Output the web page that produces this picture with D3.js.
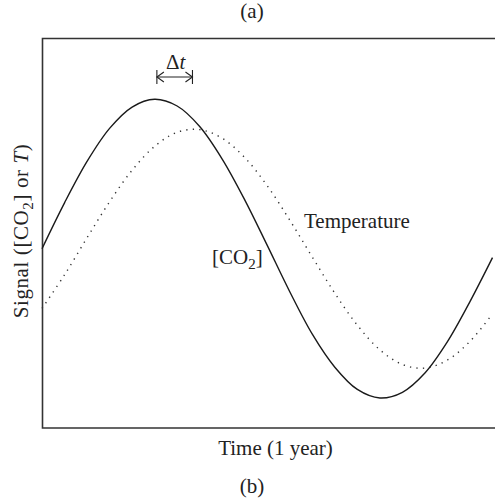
<!DOCTYPE html>
<html>
<head>
<meta charset="utf-8">
<script src="https://cdn.jsdelivr.net/npm/d3@7"></script>
<style>
  body { margin: 0; background: #fff; }
  text { font-family: "Liberation Serif", "Times New Roman", serif; fill: #222; }
</style>
</head>
<body>
<div id="chart"></div>
<script>
// time across the plot, as a fraction of one year
var times = [0, 0.05, 0.1, 0.15, 0.2, 0.25, 0.3, 0.35, 0.4, 0.45, 0.5,
             0.55, 0.6, 0.65, 0.7, 0.75, 0.8, 0.85, 0.9, 0.95, 1.0];
// [CO2] signal (solid)
var co2 = [0.0, 0.307, 0.584, 0.805, 0.948, 1.0, 0.955, 0.818, 0.6, 0.327, 0.022,
           -0.288, -0.572, -0.793, -0.942, -0.999, -0.961, -0.832, -0.622, -0.354, -0.06];
// temperature signal (dotted)
var temperature = [-0.40, -0.175, 0.073, 0.314, 0.525, 0.685, 0.779, 0.797, 0.739, 0.61, 0.421,
                   0.191, -0.056, -0.298, -0.512, -0.677, -0.775, -0.799, -0.745, -0.62, -0.436];
// lag marker, start and end times
var lag = [0.255, 0.334];

var svgWidth = 495;
var svgHeight = 502;
var margin = { top: 38, right: 2, bottom: 74, left: 42 };
var width = svgWidth - margin.left - margin.right;
var height = svgHeight - margin.top - margin.bottom;

var svg = d3.select("#chart")
  .append("svg")
  .attr("width", svgWidth)
  .attr("height", svgHeight);

var chartGroup = svg.append("g")
  .attr("transform", `translate(${margin.left}, ${margin.top})`);

var xScale = d3.scaleLinear().domain([0, 1]).range([0, width - 0.5]);
var yScale = d3.scaleLinear().domain([-1.2, 1.41]).range([height, 0]);

// frame: top, left, bottom
chartGroup.append("path")
  .attr("d", `M${width + 2},0.5H0.5V${height}H${width + 2}`)
  .attr("fill", "none")
  .attr("stroke", "#333")
  .attr("stroke-width", 1.6);

var line = d3.line()
  .x(d => xScale(d[0]))
  .y(d => yScale(d[1]))
  .curve(d3.curveCatmullRom);

chartGroup.append("path")
  .attr("d", line(d3.zip(times, temperature)))
  .attr("fill", "none")
  .attr("stroke", "#333")
  .attr("stroke-width", 1.4)
  .attr("stroke-dasharray", "1.3,5.2");

chartGroup.append("path")
  .attr("d", line(d3.zip(times, co2)))
  .attr("fill", "none")
  .attr("stroke", "#1a1a1a")
  .attr("stroke-width", 1.4);

// delta t marker
var x0 = xScale(lag[0]), x1 = xScale(lag[1]), ay = 39;
var marker = chartGroup.append("g")
  .attr("fill", "none")
  .attr("stroke", "#222")
  .attr("stroke-width", 1.1);
marker.append("path").attr("d", `M${x0},${ay - 7}V${ay + 7}M${x1},${ay - 7}V${ay + 7}M${x0},${ay}H${x1}`);
marker.append("path").attr("d", `M${x0 + 7},${ay - 5}L${x0},${ay}L${x0 + 7},${ay + 5}`);
marker.append("path").attr("d", `M${x1 - 7},${ay - 5}L${x1},${ay}L${x1 - 7},${ay + 5}`);

var dt = chartGroup.append("text")
  .attr("x", (x0 + x1) / 2 + 1)
  .attr("y", ay - 8)
  .attr("text-anchor", "middle")
  .style("font-size", "21px");
dt.append("tspan").text("\u0394");
dt.append("tspan").style("font-style", "italic").text("t");

// curve labels
chartGroup.append("text")
  .attr("x", 262)
  .attr("y", 190)
  .style("font-size", "21px")
  .text("Temperature");

var co2Label = chartGroup.append("text")
  .attr("x", 170)
  .attr("y", 226)
  .style("font-size", "21px");
co2Label.append("tspan").text("[CO");
co2Label.append("tspan").attr("dy", 5).style("font-size", "15px").text("2");
co2Label.append("tspan").attr("dy", -5).text("]");

// axis titles
chartGroup.append("text")
  .attr("x", width / 2 + 8)
  .attr("y", height + 27)
  .attr("text-anchor", "middle")
  .style("font-size", "21px")
  .text("Time (1 year)");

var yTitle = chartGroup.append("text")
  .attr("transform", "rotate(-90)")
  .attr("x", -height / 2 + 2)
  .attr("y", -14)
  .attr("text-anchor", "middle")
  .style("font-size", "21px")
  .style("letter-spacing", "0.6px");
yTitle.append("tspan").text("Signal ([CO");
yTitle.append("tspan").attr("dy", 5).style("font-size", "15px").text("2");
yTitle.append("tspan").attr("dy", -5).text("] or ");
yTitle.append("tspan").style("font-style", "italic").text("T");
yTitle.append("tspan").text(")");

// panel letters
svg.append("text")
  .attr("x", 252)
  .attr("y", 18)
  .attr("text-anchor", "middle")
  .style("font-size", "21px")
  .text("(a)");

svg.append("text")
  .attr("x", 252)
  .attr("y", 493)
  .attr("text-anchor", "middle")
  .style("font-size", "21px")
  .text("(b)");
</script>
</body>
</html>
